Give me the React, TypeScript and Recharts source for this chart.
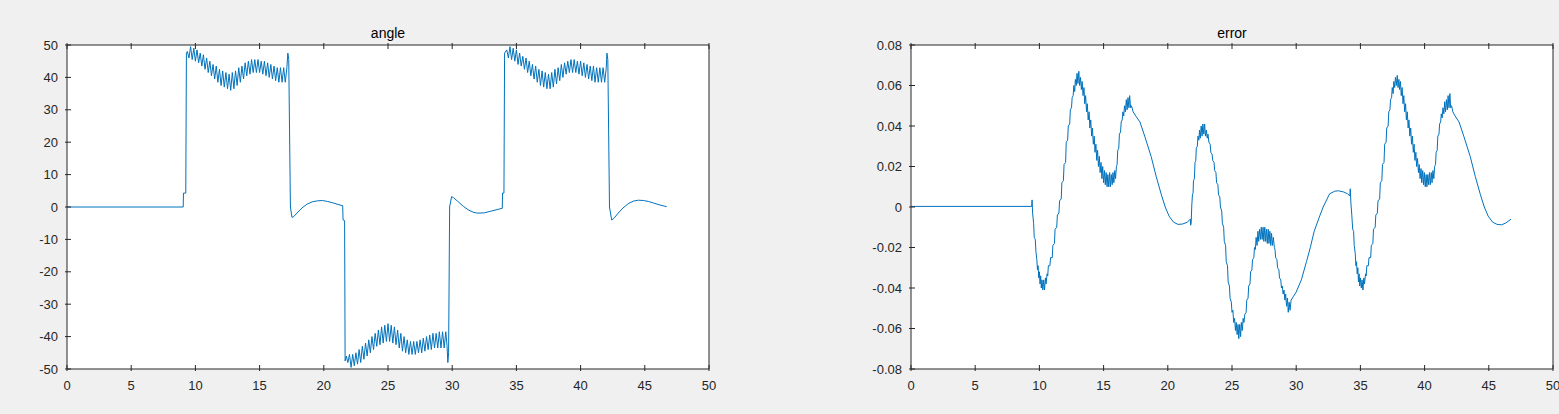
import { CartesianGrid, Line, LineChart, XAxis, YAxis } from 'recharts'

type Pair = [number, number]
type Row = { t: number; v: number }

const AXIS = '#262626'
const BLUE = '#0072BD'
const FONT = '"Liberation Sans", Arial, Helvetica, sans-serif'

const xTicks = [0, 5, 10, 15, 20, 25, 30, 35, 40, 45, 50]
const angleTicks = [-50, -40, -30, -20, -10, 0, 10, 20, 30, 40, 50]
const errorTicks = [-0.08, -0.06, -0.04, -0.02, 0, 0.02, 0.04, 0.06, 0.08]

// angle: flat start, then three saturated blocks with ripple
const angleLead: Pair[] = [
  [0, 0], [9.05, 0], [9.07, 4.3], [9.25, 4.3], [9.3, 47.5],
]
const anglePos1: Pair[] = [
  [9.375, 48], [9.5, 46], [9.625, 49.5], [9.75, 45.5], [9.875, 49], [10, 45], [10.125, 48.5], [10.25, 44.5],
  [10.375, 47.5], [10.5, 43.5], [10.625, 47], [10.75, 42.5], [10.875, 46], [11, 41.5], [11.125, 45], [11.25, 40.5],
  [11.375, 44], [11.5, 39.5], [11.625, 43.5], [11.75, 38.5], [11.875, 42.5], [12, 37.5], [12.125, 42], [12.25, 37],
  [12.375, 41.5], [12.5, 36.5], [12.625, 41], [12.75, 36], [12.875, 41.5], [13, 36.5], [13.125, 42], [13.25, 37.5],
  [13.375, 43], [13.5, 38.5], [13.625, 43.5], [13.75, 39.5], [13.875, 44.5], [14, 40.5], [14.125, 45], [14.25, 41],
  [14.375, 45.5], [14.5, 41.5], [14.625, 45.5], [14.75, 41.5], [14.875, 45.5], [15, 41.5], [15.125, 45], [15.25, 41],
  [15.375, 45], [15.5, 40.5], [15.625, 44.5], [15.75, 40], [15.875, 44], [16, 39.5], [16.125, 43.5], [16.25, 39],
  [16.375, 43], [16.5, 38.5], [16.625, 43], [16.75, 38.5], [16.875, 43], [17, 38.5], [17.125, 43],
]
const angleDip1: Pair[] = [
  [17.2, 47.5], [17.27, 45.5], [17.4, 0], [17.52, -3.2], [17.65, -3.0], [17.9, -1.9], [18.3, -0.3], [18.7, 0.9],
  [19.1, 1.6], [19.5, 1.9], [19.9, 2.0], [20.3, 1.7], [20.7, 1.3], [21.1, 0.8], [21.47, 0.4],
  [21.5, -4], [21.62, -4.2], [21.66, -47.5], [21.75, -46],
]
const angleNeg: Pair[] = [
  [21.875, -48], [22, -45.5], [22.125, -49.5], [22.25, -45.5], [22.375, -49], [22.5, -45], [22.625, -48.5], [22.75, -44],
  [22.875, -48], [23, -43], [23.125, -47], [23.25, -42], [23.375, -46], [23.5, -41], [23.625, -45], [23.75, -40],
  [23.875, -44], [24, -39], [24.125, -43], [24.25, -38], [24.375, -42.5], [24.5, -37], [24.625, -42], [24.75, -36.5],
  [24.875, -41.5], [25, -36], [25.125, -41.5], [25.25, -36.5], [25.375, -42], [25.5, -37], [25.625, -42.5], [25.75, -38],
  [25.875, -43.5], [26, -39], [26.125, -44.5], [26.25, -40], [26.375, -45], [26.5, -41], [26.625, -45.5], [26.75, -41.5],
  [26.875, -45.5], [27, -41.5], [27.125, -45.5], [27.25, -41.5], [27.375, -45], [27.5, -41], [27.625, -45], [27.75, -40.5],
  [27.875, -44.5], [28, -40], [28.125, -44], [28.25, -39.5], [28.375, -44], [28.5, -39], [28.625, -43.5], [28.75, -39],
  [28.875, -43.5], [29, -38.5], [29.125, -43.5], [29.25, -38.5], [29.375, -43.5], [29.5, -38.5],
]
const angleBump: Pair[] = [
  [29.6, -43], [29.66, -48], [29.72, -45], [29.8, 0], [29.95, 3.2], [30.1, 2.9], [30.5, 1.5], [30.9, 0.1],
  [31.3, -1.0], [31.7, -1.7], [32.0, -1.9], [32.5, -1.8], [33.0, -1.3], [33.5, -0.8], [33.9, -0.4],
  [33.92, 4.3], [34.03, 4.3], [34.08, 47.5],
]
const anglePos2: Pair[] = [
  [34.25, 48.5], [34.375, 46], [34.5, 49.5], [34.625, 45.5], [34.75, 49], [34.875, 45], [35, 48.5], [35.125, 44],
  [35.25, 47.5], [35.375, 43.5], [35.5, 46.5], [35.625, 42.5], [35.75, 46], [35.875, 41.5], [36, 45], [36.125, 40.5],
  [36.25, 44], [36.375, 39.5], [36.5, 43.5], [36.625, 38.5], [36.75, 42.5], [36.875, 37.5], [37, 42], [37.125, 37],
  [37.25, 41.5], [37.375, 36.5], [37.5, 41], [37.625, 36.5], [37.75, 41.5], [37.875, 37], [38, 42.5], [38.125, 38],
  [38.25, 43], [38.375, 39], [38.5, 44], [38.625, 40], [38.75, 44.5], [38.875, 41], [39, 45], [39.125, 41.5],
  [39.25, 45.5], [39.375, 41.5], [39.5, 45.5], [39.625, 41.5], [39.75, 45], [39.875, 41], [40, 45], [40.125, 40.5],
  [40.25, 44.5], [40.375, 40], [40.5, 44], [40.625, 39.5], [40.75, 43.5], [40.875, 39], [41, 43.5], [41.125, 38.5],
  [41.25, 43], [41.375, 38.5], [41.5, 43], [41.625, 38.5], [41.75, 43], [41.875, 38.5], [42, 43],
]
const angleTail: Pair[] = [
  [42.05, 47.5], [42.12, 45.5], [42.25, 0], [42.42, -4], [42.6, -3.5], [42.9, -2.0], [43.3, -0.3], [43.7, 1.0],
  [44.1, 1.8], [44.5, 2.1], [44.9, 2.0], [45.3, 1.7], [45.7, 1.2], [46.1, 0.7], [46.5, 0.3], [46.7, 0.1],
]

// error: flat start, then three ripple waves joined by smooth arcs
const errorLead: Pair[] = [
  [0, 0.0003], [9.4, 0.0003], [9.43, 0.0035], [9.47, -0.003],
]
const errorWave1: Pair[] = [
  [9.55, -0.008], [9.6, -0.015], [9.68, -0.016], [9.73, -0.022], [9.8, -0.026], [9.85, -0.031], [9.9, -0.029],
  [9.95, -0.035], [10.0, -0.032], [10.05, -0.038], [10.1, -0.034], [10.15, -0.04], [10.2, -0.036], [10.27, -0.041],
  [10.33, -0.036], [10.4, -0.041], [10.47, -0.035], [10.52, -0.038], [10.6, -0.033], [10.65, -0.034], [10.7, -0.029],
  [10.82, -0.029], [10.87, -0.025], [11.0, -0.025], [11.05, -0.019], [11.17, -0.018], [11.22, -0.011], [11.35, -0.01],
  [11.4, -0.004], [11.52, -0.003], [11.57, 0.003], [11.7, 0.004], [11.75, 0.012], [11.87, 0.013], [11.92, 0.021],
  [12.04, 0.022], [12.09, 0.032], [12.2, 0.033], [12.25, 0.04], [12.36, 0.041], [12.41, 0.048], [12.5, 0.049],
  [12.55, 0.054], [12.63, 0.055], [12.68, 0.06], [12.75, 0.057], [12.8, 0.063], [12.87, 0.06], [12.93, 0.066],
  [13.0, 0.061], [13.07, 0.067], [13.13, 0.06], [13.2, 0.064], [13.27, 0.058], [13.33, 0.062], [13.4, 0.055],
  [13.47, 0.059], [13.53, 0.051], [13.6, 0.055], [13.67, 0.047], [13.73, 0.051], [13.8, 0.043], [13.87, 0.047],
  [13.93, 0.039], [14.0, 0.043], [14.07, 0.035], [14.13, 0.039], [14.2, 0.031], [14.27, 0.035], [14.33, 0.027],
  [14.4, 0.031], [14.47, 0.023], [14.53, 0.028], [14.6, 0.02], [14.67, 0.025], [14.73, 0.017], [14.8, 0.022],
  [14.87, 0.014], [14.93, 0.02], [15.0, 0.012], [15.07, 0.018], [15.13, 0.011], [15.2, 0.017], [15.27, 0.01],
  [15.33, 0.016], [15.4, 0.01], [15.47, 0.017], [15.53, 0.01], [15.6, 0.016], [15.67, 0.011], [15.73, 0.017],
  [15.8, 0.012], [15.87, 0.018], [15.93, 0.014], [16.0, 0.02], [16.05, 0.021], [16.1, 0.028], [16.18, 0.029],
  [16.23, 0.036], [16.32, 0.037], [16.37, 0.042], [16.45, 0.043], [16.5, 0.047], [16.57, 0.045], [16.63, 0.05],
  [16.7, 0.047], [16.77, 0.053], [16.83, 0.048], [16.9, 0.054], [16.97, 0.049], [17.03, 0.055], [17.1, 0.049],
  [17.17, 0.05], [17.3, 0.047], [17.5, 0.045], [17.83, 0.042], [18.2, 0.035], [18.7, 0.025], [19.1, 0.015],
  [19.5, 0.006], [19.8, 0.0], [20.1, -0.0045], [20.45, -0.0075], [20.8, -0.0086], [21.15, -0.0084], [21.5, -0.0076],
  [21.76, -0.006], [21.78, -0.009],
]
const errorWave2: Pair[] = [
  [21.82, -0.008], [21.87, 0.001], [21.92, 0.006], [21.97, 0.007], [22.0, 0.013], [22.07, 0.014], [22.12, 0.022],
  [22.18, 0.023], [22.22, 0.029], [22.3, 0.03], [22.35, 0.035], [22.42, 0.033], [22.47, 0.038], [22.53, 0.034],
  [22.6, 0.04], [22.67, 0.035], [22.73, 0.041], [22.8, 0.036], [22.87, 0.041], [22.93, 0.035], [23.0, 0.038],
  [23.07, 0.034], [23.13, 0.036], [23.2, 0.032], [23.3, 0.031], [23.35, 0.027], [23.45, 0.026], [23.5, 0.023],
  [23.6, 0.022], [23.65, 0.018], [23.75, 0.017], [23.8, 0.012], [23.9, 0.011], [23.95, 0.006], [24.05, 0.005],
  [24.1, 0.0], [24.2, -0.002], [24.25, -0.008], [24.35, -0.01], [24.4, -0.017], [24.5, -0.019], [24.55, -0.027],
  [24.65, -0.029], [24.7, -0.037], [24.8, -0.039], [24.85, -0.045], [24.95, -0.047], [25.0, -0.052], [25.07, -0.051],
  [25.13, -0.057], [25.2, -0.055], [25.27, -0.061], [25.33, -0.057], [25.4, -0.063], [25.47, -0.058], [25.53, -0.065],
  [25.6, -0.058], [25.67, -0.064], [25.73, -0.057], [25.8, -0.061], [25.87, -0.055], [25.93, -0.057], [26.0, -0.053],
  [26.1, -0.052], [26.15, -0.046], [26.25, -0.045], [26.3, -0.039], [26.4, -0.038], [26.45, -0.032], [26.55, -0.031],
  [26.6, -0.026], [26.7, -0.025], [26.75, -0.02], [26.82, -0.021], [26.88, -0.015], [26.95, -0.019], [27.02, -0.012],
  [27.08, -0.017], [27.15, -0.011], [27.22, -0.016], [27.28, -0.01], [27.35, -0.016], [27.42, -0.01], [27.48, -0.017],
  [27.55, -0.01], [27.62, -0.017], [27.68, -0.011], [27.75, -0.018], [27.82, -0.011], [27.88, -0.018], [27.95, -0.012],
  [28.02, -0.019], [28.08, -0.013], [28.15, -0.019], [28.22, -0.015], [28.3, -0.02], [28.35, -0.021], [28.4, -0.025],
  [28.5, -0.026], [28.55, -0.03], [28.65, -0.031], [28.7, -0.035], [28.8, -0.036], [28.85, -0.04], [28.92, -0.039],
  [28.98, -0.043], [29.05, -0.041], [29.12, -0.046], [29.18, -0.043], [29.25, -0.049], [29.32, -0.045], [29.38, -0.052],
  [29.45, -0.047], [29.52, -0.051], [29.6, -0.046], [29.8, -0.044], [30.0, -0.042], [30.4, -0.036], [30.8, -0.027],
  [31.1, -0.02], [31.4, -0.012], [31.8, -0.005], [32.1, 0.0], [32.6, 0.0065], [33.0, 0.0078], [33.3, 0.008],
  [33.7, 0.0074], [34.0, 0.0065], [34.18, 0.0055],
]
const errorWave3: Pair[] = [
  [34.21, 0.009], [34.26, 0.002], [34.33, -0.004], [34.4, -0.011], [34.47, -0.012], [34.52, -0.019], [34.6, -0.023],
  [34.65, -0.029], [34.7, -0.027], [34.75, -0.033], [34.8, -0.03], [34.85, -0.037], [34.9, -0.033], [34.95, -0.039],
  [35.0, -0.035], [35.07, -0.04], [35.13, -0.036], [35.2, -0.041], [35.27, -0.035], [35.32, -0.038], [35.4, -0.033],
  [35.45, -0.034], [35.5, -0.029], [35.62, -0.029], [35.67, -0.025], [35.8, -0.025], [35.85, -0.019], [35.97, -0.018],
  [36.02, -0.011], [36.15, -0.01], [36.2, -0.004], [36.32, -0.003], [36.37, 0.003], [36.5, 0.004], [36.55, 0.012],
  [36.67, 0.013], [36.72, 0.021], [36.84, 0.022], [36.89, 0.031], [37.0, 0.032], [37.05, 0.039], [37.16, 0.04],
  [37.21, 0.047], [37.3, 0.048], [37.35, 0.053], [37.43, 0.054], [37.48, 0.059], [37.55, 0.056], [37.6, 0.062],
  [37.67, 0.059], [37.73, 0.064], [37.8, 0.06], [37.87, 0.065], [37.93, 0.059], [38.0, 0.063], [38.05, 0.058],
  [38.12, 0.062], [38.18, 0.055], [38.25, 0.059], [38.32, 0.051], [38.38, 0.055], [38.45, 0.047], [38.52, 0.051],
  [38.58, 0.043], [38.65, 0.047], [38.72, 0.039], [38.78, 0.043], [38.85, 0.035], [38.92, 0.039], [38.98, 0.031],
  [39.05, 0.035], [39.12, 0.027], [39.18, 0.031], [39.25, 0.023], [39.32, 0.027], [39.38, 0.02], [39.45, 0.024],
  [39.52, 0.017], [39.58, 0.021], [39.65, 0.014], [39.72, 0.019], [39.78, 0.012], [39.85, 0.018], [39.92, 0.011],
  [39.98, 0.017], [40.05, 0.01], [40.12, 0.016], [40.18, 0.01], [40.25, 0.016], [40.32, 0.011], [40.38, 0.017],
  [40.45, 0.011], [40.52, 0.017], [40.58, 0.012], [40.65, 0.018], [40.72, 0.014], [40.78, 0.02], [40.85, 0.021],
  [40.9, 0.027], [40.98, 0.028], [41.03, 0.035], [41.12, 0.036], [41.17, 0.041], [41.25, 0.042], [41.3, 0.046],
  [41.37, 0.044], [41.43, 0.049], [41.5, 0.046], [41.57, 0.052], [41.63, 0.047], [41.7, 0.053], [41.77, 0.048],
  [41.83, 0.055], [41.9, 0.049], [41.97, 0.056], [42.03, 0.049], [42.1, 0.05], [42.2, 0.047], [42.37, 0.045],
  [42.68, 0.042], [43.05, 0.035], [43.55, 0.025], [43.95, 0.015], [44.35, 0.006], [44.65, 0.0], [44.95, -0.0045],
  [45.3, -0.0075], [45.65, -0.0086], [46.0, -0.0088], [46.35, -0.0078], [46.73, -0.006],
]

const toRows = (...parts: Pair[][]): Row[] => parts.flat().map(([t, v]) => ({ t, v }))

const angleData = toRows(angleLead, anglePos1, angleDip1, angleNeg, angleBump, anglePos2, angleTail)
const errorData = toRows(errorLead, errorWave1, errorWave2, errorWave3)

const fmtAngle = (v: number) => String(v)
const fmtError = (v: number) => (v === 0 ? '0' : v.toFixed(2))

const TICK_LEN = 6
const labelStyle = { fontFamily: FONT, fontSize: 13, fill: AXIS }

const leftTick = (fmt: (v: number) => string) => (p: any) => (
  <g>
    <line x1={p.x} x2={p.x + TICK_LEN} y1={p.y} y2={p.y} stroke={AXIS} />
    <text x={p.x - 7} y={p.y + 4.6} textAnchor="end" {...labelStyle}>
      {fmt(p.payload.value)}
    </text>
  </g>
)
const rightTick = (p: any) => <line x1={p.x} x2={p.x - TICK_LEN} y1={p.y} y2={p.y} stroke={AXIS} />
const topTick = (p: any) => <line x1={p.x} x2={p.x} y1={p.y} y2={p.y + TICK_LEN} stroke={AXIS} />
const bottomTick = (p: any) => (
  <g>
    <line x1={p.x} x2={p.x} y1={p.y} y2={p.y - TICK_LEN} stroke={AXIS} />
    <text x={p.x} y={p.y + 19} textAnchor="middle" {...labelStyle}>
      {p.payload.value}
    </text>
  </g>
)

type PanelProps = {
  left: number
  width: number
  yWidth: number
  rWidth: number
  data: Row[]
  domain: [number, number]
  ticks: number[]
  fmt: (v: number) => string
}

function Panel({ left, width, yWidth, rWidth, data, domain, ticks, fmt }: PanelProps) {
  return (
    <div style={{ position: 'absolute', left, top: 0 }}>
      <LineChart width={width} height={414} data={data} margin={{ top: 0, right: 0, bottom: 0, left: 0 }}>
        <CartesianGrid horizontal={false} vertical={false} fill="#ffffff" />
        <XAxis dataKey="t" type="number" domain={[0, 50]} ticks={xTicks} interval={0} height={45}
          tickSize={0} tickLine={false} axisLine={{ stroke: AXIS }} tick={bottomTick} />
        <XAxis xAxisId="top" orientation="top" dataKey="t" type="number" domain={[0, 50]} ticks={xTicks}
          interval={0} height={45} tickSize={0} tickLine={false} axisLine={{ stroke: AXIS }} tick={topTick} />
        <YAxis type="number" domain={domain} ticks={ticks} interval={0} width={yWidth}
          tickSize={0} tickLine={false} axisLine={{ stroke: AXIS }} tick={leftTick(fmt)} />
        <YAxis yAxisId="r" orientation="right" type="number" domain={domain} ticks={ticks} interval={0}
          width={rWidth} tickSize={0} tickLine={false} axisLine={{ stroke: AXIS }} tick={rightTick} />
        <Line type="linear" dataKey="v" stroke={BLUE} strokeWidth={1} dot={false} isAnimationActive={false} />
      </LineChart>
    </div>
  )
}

export default function App() {
  return (
    <div style={{ position: 'absolute', left: 0, top: 0, width: 1559, height: 414, background: '#f0f0f0', overflow: 'hidden' }}>
      <Panel left={0} width={760} yWidth={67} rWidth={51} data={angleData} domain={[-50, 50]} ticks={angleTicks} fmt={fmtAngle} />
      <Panel left={840} width={719} yWidth={71} rWidth={6} data={errorData} domain={[-0.08, 0.08]} ticks={errorTicks} fmt={fmtError} />
      <svg width={1559} height={414} style={{ position: 'absolute', left: 0, top: 0, pointerEvents: 'none' }}>
        <text x={388} y={38} textAnchor="middle" fontFamily={FONT} fontSize={14} fill="#000">angle</text>
        <text x={1232} y={38} textAnchor="middle" fontFamily={FONT} fontSize={14} fill="#000">error</text>
      </svg>
    </div>
  )
}
